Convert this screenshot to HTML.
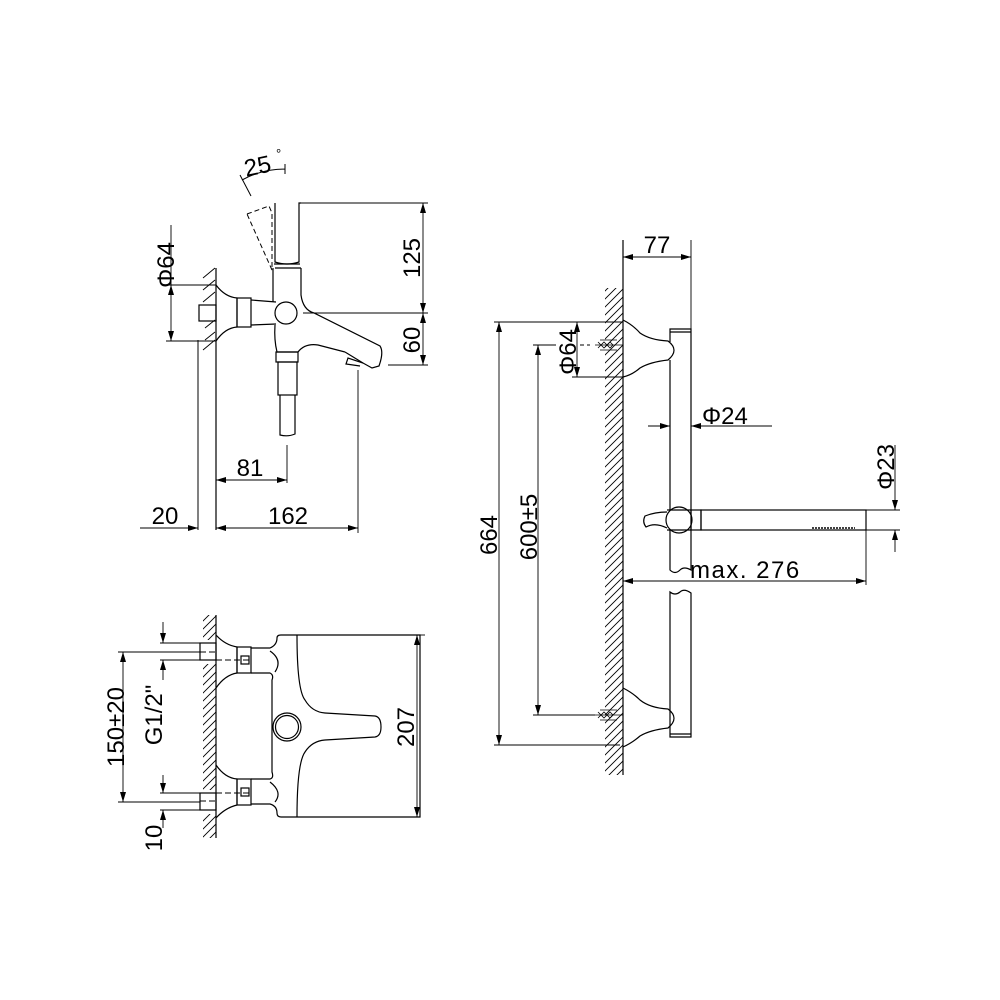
<!DOCTYPE html>
<html><head><meta charset="utf-8"><style>
html,body{margin:0;padding:0;background:#fff}
svg{display:block}
text{font-family:"Liberation Sans",Arial,sans-serif;font-size:24px;fill:#000}
</style></head><body>
<svg width="1000" height="1000" viewBox="0 0 1000 1000" xmlns="http://www.w3.org/2000/svg">
<defs>
<pattern id="h" width="8" height="8" patternUnits="userSpaceOnUse">
<path d="M-2 10 L10 -2 M-2 2 L2 -2 M6 10 L10 6" stroke="#000" stroke-width="0.9"/>
</pattern>
<marker id="a" viewBox="0 0 10 6" refX="10" refY="3" markerWidth="10" markerHeight="6" orient="auto-start-reverse" markerUnits="userSpaceOnUse"><path d="M0 0 L10 3 L0 6z" fill="#000"/></marker>
</defs>
<g fill="none" stroke="#000" stroke-width="1.2">

<!-- ===== TOP LEFT VIEW ===== -->
<g stroke-width="0.9">
<path d="M203 278 L215 268 M203 290 L215 280 M203 302 L215 292 M205 340 L215 332 M203 350 L215 340 M205 328 L215 320"/>
</g>
<line x1="216" y1="268" x2="216" y2="530"/>
<line x1="198" y1="340" x2="198" y2="530" stroke-width="1"/>
<rect x="199" y="305" width="17" height="16"/>
<path d="M216 285 Q225 297 237 298 L237 327 Q225 328 216 341"/>
<rect x="237" y="298" width="14" height="29"/>
<path d="M251 300 L276 302 M251 325 L276 324"/>
<circle cx="286" cy="313" r="11"/>
<path d="M273 268 L273 302 M275 325 Q274 340 277 352 L298 352 Q305 343 318 345 L345 352"/>
<path d="M301 268 L301 295 Q303 310 314 313 L380 346 Q384 352 379 366 L372 368 L363 363 L348 358 L346 364 L360 366"/>
<path d="M345 352 L363 363"/>
<rect x="276" y="352" width="22" height="10"/>
<rect x="278" y="362" width="19" height="33"/>
<path d="M280 395 L280 435 Q288 437 295 434 L295 395"/>
<path d="M275 203 L275 262 Q287 266 299 262 L299 203 L301 203" />
<line x1="274" y1="264" x2="300" y2="264"/>
<line x1="275" y1="268" x2="301" y2="268"/>
<path d="M247 214 L269 206 L272 213 L272 270 Z" stroke-dasharray="5,3" stroke-width="1"/>
<path d="M240 175 L251 196" stroke-width="1"/>
<path d="M242 180 Q262 169 285 169 M285 164 L285 174" stroke-width="1"/>
<g stroke-width="0.9">
<line x1="301" y1="203" x2="428" y2="203"/>
<line x1="303" y1="313" x2="428" y2="313"/>
<line x1="388" y1="365" x2="428" y2="365"/>
<line x1="423" y1="203" x2="423" y2="313" marker-start="url(#a)" marker-end="url(#a)"/>
<line x1="423" y1="313" x2="423" y2="365" marker-start="url(#a)" marker-end="url(#a)"/>
<line x1="166" y1="285" x2="216" y2="285"/>
<line x1="166" y1="341" x2="216" y2="341"/>
<line x1="171" y1="285" x2="171" y2="341" marker-start="url(#a)" marker-end="url(#a)"/>
<line x1="171" y1="225" x2="171" y2="285"/>
<line x1="287" y1="445" x2="287" y2="483"/>
<line x1="216" y1="480" x2="287" y2="480" marker-start="url(#a)" marker-end="url(#a)"/>
<line x1="358" y1="370" x2="358" y2="533"/>
<line x1="140" y1="528" x2="198" y2="528" marker-end="url(#a)"/>
<line x1="216" y1="528" x2="358" y2="528" marker-start="url(#a)" marker-end="url(#a)"/>
</g>

<!-- ===== BOTTOM LEFT VIEW ===== -->
<rect x="203" y="615" width="13" height="223" fill="url(#h)" stroke="none"/>
<rect x="199" y="640" width="17" height="24" fill="#fff" stroke="none"/>
<rect x="199" y="790" width="17" height="24" fill="#fff" stroke="none"/>
<line x1="216" y1="615" x2="216" y2="838"/>
<rect x="200" y="643" width="16" height="17"/>
<rect x="200" y="793" width="16" height="17"/>
<path d="M216 635 Q225 645 237 647 L237 673 Q225 675 216 688"/>
<path d="M216 765 Q225 778 237 779 L237 805 Q225 808 216 818"/>
<rect x="237" y="647" width="14" height="26"/>
<rect x="237" y="779" width="14" height="26"/>
<rect x="241" y="656" width="8" height="8"/>
<rect x="241" y="788" width="8" height="8"/>
<path d="M251 648 L270 648 Q277 645 277 638 Q277 635 281 635 L420 635 L420 817 L281 817 Q277 817 277 813 Q277 806 270 804 L251 804"/>
<path d="M251 673 L270 673 Q274 675 272 680 L272 772 Q274 778 270 779 L251 779"/>
<path d="M270 651 Q283 660 275 672 M270 782 Q283 792 275 802"/>
<path d="M297 635 Q297 690 305 700 Q312 712 325 713 L375 716 Q381 717 381 727 Q381 736 375 737 L325 740 Q312 741 305 752 Q297 763 297 817"/>
<circle cx="287" cy="727" r="14"/>
<circle cx="287" cy="727" r="11.5"/>
<g stroke-width="0.9">
<path d="M160 643 L200 643 M160 660 L200 660 M160 793 L200 793 M160 810 L200 810"/>
<path d="M200 652 L216 652 M216 660 L252 660 M200 801 L216 801 M216 793 L252 793" stroke-dasharray="6,3"/>
<path d="M118 652 L200 652 M118 802 L200 802"/>
<line x1="123" y1="652" x2="123" y2="802" marker-start="url(#a)" marker-end="url(#a)"/>
<line x1="163" y1="622" x2="163" y2="643" marker-end="url(#a)"/>
<line x1="163" y1="660" x2="163" y2="680" marker-start="url(#a)"/>
<line x1="163" y1="775" x2="163" y2="793" marker-end="url(#a)"/>
<line x1="163" y1="810" x2="163" y2="828" marker-start="url(#a)"/>
<line x1="420" y1="635" x2="425" y2="635"/>
<line x1="417" y1="635" x2="417" y2="817" marker-start="url(#a)" marker-end="url(#a)"/>
</g>

<!-- ===== RIGHT VIEW ===== -->
<rect x="605" y="288" width="18" height="487" fill="url(#h)" stroke="none"/>
<line x1="623" y1="240" x2="623" y2="775"/>
<path d="M623 320 Q633 325 640 333 Q650 340 668 341 Q680 350 668 360 Q650 362 640 368 Q632 375 623 377"/>
<path d="M623 688 Q633 693 640 700 Q650 708 668 709 Q680 718 668 728 Q650 730 640 736 Q632 743 623 747"/>
<path d="M670 342 L670 329 L691 329 L691 570 Q684 566 680 570 Q675 575 670 570 L670 360"/>
<line x1="670" y1="332" x2="691" y2="332"/>
<path d="M670 708 L670 737 L691 737 L691 593 Q684 588 680 592 Q675 596 670 592 L670 728"/>
<line x1="670" y1="734" x2="691" y2="734"/>
<path d="M595 345 L623 345 M600 340 L617 340 M600 350 L617 350 M595 715 L623 715 M600 710 L617 710 M600 720 L617 720" stroke-width="0.8"/>
<path d="M598 342 l3 3 l3-3 l3 3 l3-3 l3 3 M598 348 l3-3 l3 3 l3-3 l3 3 l3-3 M598 712 l3 3 l3-3 l3 3 l3-3 l3 3 M598 718 l3-3 l3 3 l3-3 l3 3 l3-3" stroke-width="0.8"/>
<circle cx="679" cy="520" r="13" fill="#fff"/>
<path d="M667 510 L691 510 M667 530 L691 530"/>
<path d="M667 512 Q655 512 645 516 Q642 522 646 527 Q655 522 667 528"/>
<rect x="691" y="510" width="10" height="20"/>
<rect x="701" y="510" width="165" height="20"/>
<line x1="812" y1="528" x2="855" y2="528" stroke-dasharray="2,1" stroke-width="1.6"/>
<g stroke-width="0.9">
<line x1="691" y1="240" x2="691" y2="330"/>
<line x1="623" y1="257" x2="691" y2="257" marker-start="url(#a)" marker-end="url(#a)"/>
<line x1="648" y1="426" x2="670" y2="426" marker-end="url(#a)"/>
<line x1="691" y1="426" x2="772" y2="426" marker-start="url(#a)"/>
<line x1="866" y1="510" x2="900" y2="510"/>
<line x1="866" y1="530" x2="900" y2="530"/>
<line x1="895" y1="445" x2="895" y2="510" marker-end="url(#a)"/>
<line x1="895" y1="530" x2="895" y2="552" marker-start="url(#a)"/>
<line x1="866" y1="530" x2="866" y2="585"/>
<line x1="623" y1="581" x2="866" y2="581" marker-start="url(#a)" marker-end="url(#a)"/>
<line x1="494" y1="322" x2="610" y2="322"/>
<line x1="494" y1="745" x2="620" y2="745"/>
<line x1="499" y1="322" x2="499" y2="745" marker-start="url(#a)" marker-end="url(#a)"/>
<line x1="533" y1="345" x2="556" y2="345"/>
<line x1="533" y1="715" x2="595" y2="715"/>
<line x1="580" y1="345" x2="590" y2="345" stroke-dasharray="4,3"/>
<line x1="538" y1="345" x2="538" y2="715" marker-start="url(#a)" marker-end="url(#a)"/>
<line x1="572" y1="322" x2="623" y2="322"/>
<line x1="572" y1="377" x2="623" y2="377"/>
<line x1="577" y1="322" x2="577" y2="377" marker-start="url(#a)" marker-end="url(#a)"/>
</g>
</g>

<!-- TEXT -->
<text x="244" y="174" transform="rotate(-12 258 165)">25</text>
<text x="276" y="158" style="font-size:13px">°</text>
<text transform="translate(174 265) rotate(-90)" text-anchor="middle">Φ64</text>
<text transform="translate(420 258) rotate(-90)" text-anchor="middle">125</text>
<text transform="translate(420 340) rotate(-90)" text-anchor="middle">60</text>
<text x="250" y="476" text-anchor="middle">81</text>
<text x="165" y="524" text-anchor="middle">20</text>
<text x="288" y="524" text-anchor="middle">162</text>
<text transform="translate(124 727) rotate(-90)" text-anchor="middle">150±20</text>
<text transform="translate(162 715) rotate(-90)" text-anchor="middle">G1/2"</text>
<text transform="translate(162 838) rotate(-90)" text-anchor="middle">10</text>
<text transform="translate(414 727) rotate(-90)" text-anchor="middle">207</text>
<text x="657" y="253" text-anchor="middle">77</text>
<text x="702" y="424">Φ24</text>
<text transform="translate(894 467) rotate(-90)" text-anchor="middle">Φ23</text>
<text x="690" y="578" style="letter-spacing:1.5px">max. 276</text>
<text transform="translate(497 535) rotate(-90)" text-anchor="middle">664</text>
<text transform="translate(537 527) rotate(-90)" text-anchor="middle">600±5</text>
<text transform="translate(576 352) rotate(-90)" text-anchor="middle">Φ64</text>
</svg>
</body></html>
